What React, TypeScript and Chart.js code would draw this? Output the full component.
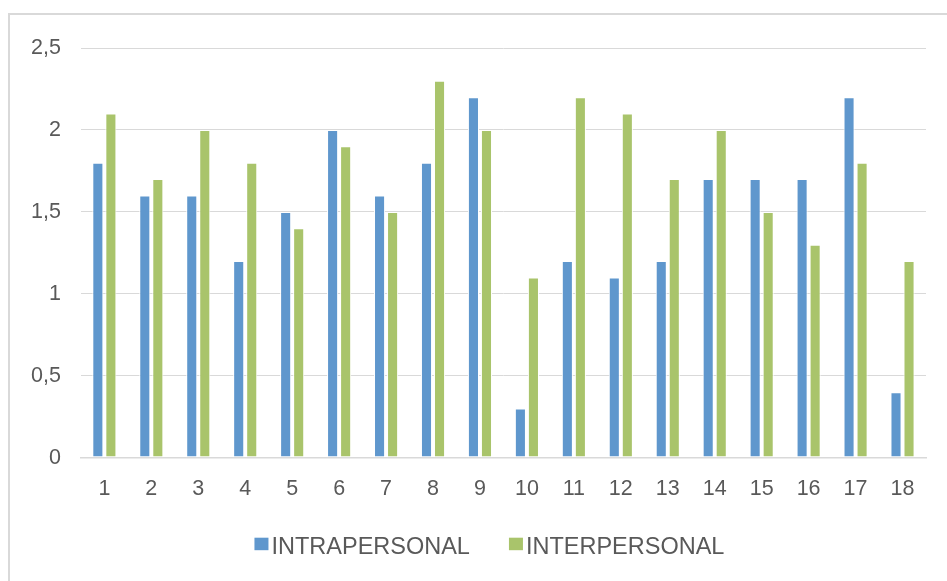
import React, { useEffect, useRef } from "react";
import { Chart, registerables } from "chart.js";

Chart.register(...registerables);

const categories = ["1","2","3","4","5","6","7","8","9","10","11","12","13","14","15","16","17","18"];
const intrapersonal = [1.8, 1.6, 1.6, 1.2, 1.5, 2.0, 1.6, 1.8, 2.2, 0.3, 1.2, 1.1, 1.2, 1.7, 1.7, 1.7, 2.2, 0.4];
const interpersonal = [2.1, 1.7, 2.0, 1.8, 1.4, 1.9, 1.5, 2.3, 2.0, 1.1, 2.2, 2.1, 1.7, 2.0, 1.5, 1.3, 1.8, 1.2];
const seriesNames = ["INTRAPERSONAL", "INTERPERSONAL"];
const seriesColors = ["#5f97cd", "#a9c46b"];

const FAMILY = "'Liberation Sans', Arial, sans-serif";

const bottomLegend = {
  id: "bottomLegend",
  afterDraw(chart: any) {
    const ctx = chart.ctx;
    const area = chart.chartArea;
    const size = 23.5;
    ctx.save();
    ctx.font = `${size}px ${FAMILY}`;
    const box = 14;
    const gapText = 3;
    const gapItem = 39;
    const items = chart.data.datasets.map((d: any) => ({
      text: d.label as string,
      color: d.backgroundColor as string,
      w: ctx.measureText(d.label).width,
    }));
    const total = items.reduce((s: number, it: any) => s + box + gapText + it.w, 0) + gapItem * (items.length - 1);
    const center = (area.left + area.right) / 2 - 14;
    let x = center - total / 2;
    const baseline = area.bottom + 96.5;
    const boxTop = area.bottom + 80;
    ctx.textBaseline = "alphabetic";
    ctx.textAlign = "left";
    for (const it of items) {
      ctx.fillStyle = it.color;
      ctx.fillRect(x, boxTop, box, 12.5);
      ctx.fillStyle = "#595959";
      ctx.fillText(it.text, x + box + gapText, baseline);
      x += box + gapText + it.w + gapItem;
    }
    ctx.restore();
  },
};

export default function App() {
  const ref = useRef<HTMLCanvasElement>(null);
  useEffect(() => {
    if (!ref.current) return;
    const font = { family: FAMILY, size: 21.5 };
    const chart = new Chart(ref.current, {
      type: "bar",
      data: {
        labels: categories,
        datasets: [
          { label: seriesNames[0], data: intrapersonal, backgroundColor: seriesColors[0], borderColor: "#ffffff", borderWidth: 1, borderSkipped: false, barPercentage: 0.85, categoryPercentage: 0.555 },
          { label: seriesNames[1], data: interpersonal, backgroundColor: seriesColors[1], borderColor: "#ffffff", borderWidth: 1, borderSkipped: false, barPercentage: 0.85, categoryPercentage: 0.555 },
        ],
      },
      options: {
        animation: false,
        responsive: true,
        maintainAspectRatio: false,
        layout: { padding: { left: 1, right: 21, top: 33, bottom: 61.5 } },
        plugins: {
          tooltip: { enabled: false },
          legend: { display: false },
        },
        scales: {
          x: {
            grid: { display: false, drawTicks: false },
            border: { display: true, color: "#d9d9d9", width: 1.5 },
            ticks: { font, color: "#595959", padding: 18 },
          },
          y: {
            min: 0,
            max: 2.5,
            ticks: {
              stepSize: 0.5,
              font,
              color: "#595959",
              padding: 20,
              callback: (v: any) => String(v).replace(".", ","),
            },
            grid: { color: "#d9d9d9", drawTicks: false },
            border: { display: false },
          },
        },
      },
      plugins: [bottomLegend],
    });
    return () => chart.destroy();
  }, []);
  return (
    <div style={{ position: "absolute", left: 8, top: 13, width: 939, height: 568, borderTop: "2px solid #d9d9d9", borderLeft: "2px solid #d9d9d9", boxSizing: "border-box", background: "#fff" }}>
      <canvas ref={ref} />
    </div>
  );
}
